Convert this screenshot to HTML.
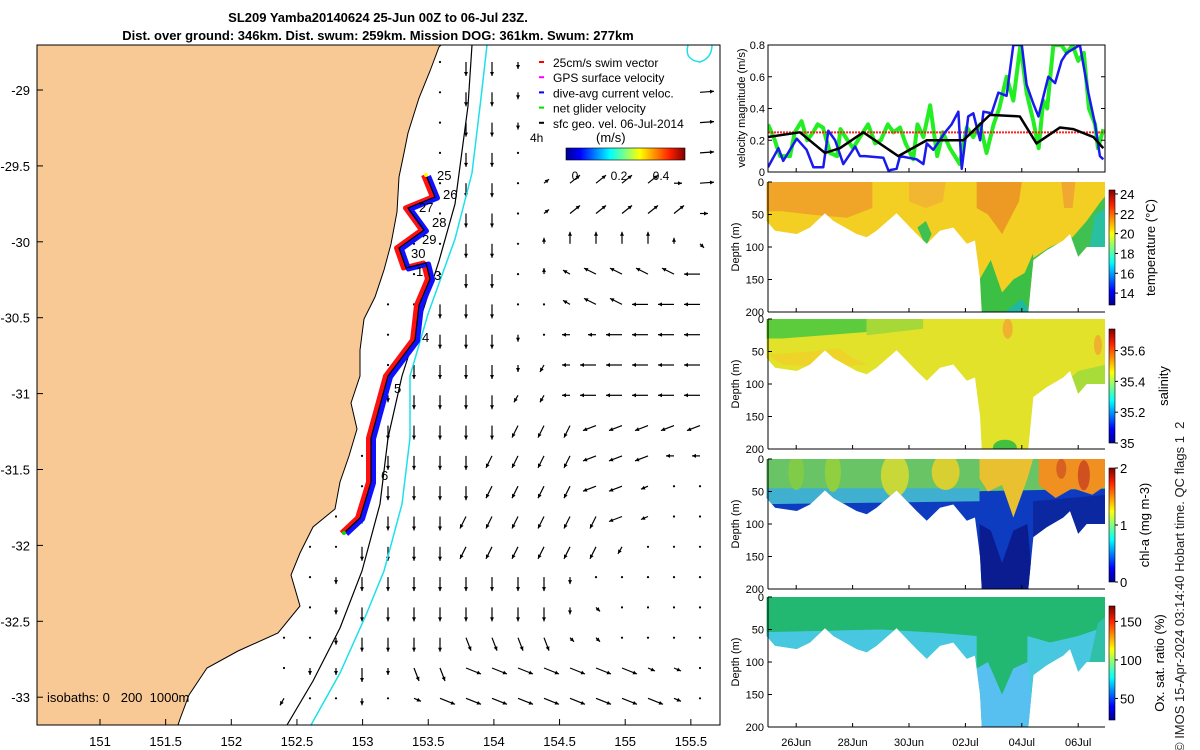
<!DOCTYPE html>
<html><head><meta charset="utf-8">
<style>
html,body{margin:0;padding:0;background:#fff;}
svg{display:block;font-family:"Liberation Sans",sans-serif;}
</style></head>
<body>
<svg id="root" width="1200" height="750" viewBox="0 0 1200 750">
<defs>
<linearGradient id="jet" x1="0" x2="1" y1="0" y2="0">
<stop offset="0" stop-color="#00008f"/><stop offset="0.12" stop-color="#0000ff"/><stop offset="0.37" stop-color="#00ffff"/><stop offset="0.5" stop-color="#80ff80"/><stop offset="0.62" stop-color="#ffff00"/><stop offset="0.87" stop-color="#ff2000"/><stop offset="1" stop-color="#800000"/>
</linearGradient>
<linearGradient id="jetv" x1="0" x2="0" y1="1" y2="0">
<stop offset="0" stop-color="#00008f"/><stop offset="0.12" stop-color="#0000ff"/><stop offset="0.37" stop-color="#00ffff"/><stop offset="0.5" stop-color="#80ff80"/><stop offset="0.62" stop-color="#ffff00"/><stop offset="0.87" stop-color="#ff2000"/><stop offset="1" stop-color="#800000"/>
</linearGradient>
<clipPath id="mapclip"><rect x="37" y="45" width="683" height="680"/></clipPath>
<clipPath id="velclip"><rect x="768" y="45" width="337" height="127"/></clipPath>
</defs>
<g id="title" font-weight="bold" font-size="13" text-anchor="middle">
<text x="378" y="22">SL209 Yamba20140624 25-Jun 00Z to 06-Jul 23Z.</text>
<text x="378" y="40">Dist. over ground: 346km. Dist. swum: 259km. Mission DOG: 361km. Swum: 277km</text>
</g>
<g id="map" clip-path="url(#mapclip)"></g>
<rect x="37" y="45" width="683" height="680" fill="none" stroke="#000" stroke-width="1"/>
<g id="mapaxes"></g>
<g id="vel"></g>
<g id="sections"></g>
<text transform="translate(1184,752) rotate(-90)" font-size="13" fill="#222" style="white-space:pre">© IMOS 15-Apr-2024 03:14:40 Hobart time. QC flags 1  2</text>
</svg>
<script>
// ---------- velocity data (day since 25-Jun 00Z, m/s) ----------
const blueT=[0,0.37,0.54,1.02,1.37,1.61,1.96,2.14,2.38,2.67,3.09,3.26,3.44,4.09,4.27,4.56,4.68,5.27,5.51,5.63,5.86,6.28,6.51,6.75,6.87,7.1,7.28,7.52,7.64,7.93,8.17,8.46,8.7,9.0,9.17,9.41,9.59,9.94,10.18,10.41,10.59,11.06,11.36,11.6,11.77,11.89];
const blueV=[0.03,0.15,0.07,0.21,0.14,0.03,0.03,0.26,0.2,0.05,0.16,0.1,0.1,0.09,0.01,0.02,0.1,0.08,0.05,0.18,0.14,0.25,0.3,0.38,0.02,0.35,0.37,0.2,0.38,0.37,0.5,0.48,0.8,0.8,0.55,0.43,0.35,0.6,0.56,0.7,0.75,0.8,0.5,0.3,0.1,0.08];
const blackT=[0,1.13,2.02,2.55,3.38,4.62,5.63,6.93,7.87,8.93,9.52,10.35,10.83,11.54,11.89];
const blackV=[0.22,0.25,0.12,0.15,0.25,0.1,0.2,0.2,0.36,0.35,0.18,0.28,0.27,0.22,0.15];
const greenT=[0,0.2,0.43,0.78,0.95,1.19,1.39,1.6,1.76,1.95,2.2,2.45,2.57,2.82,3.02,3.26,3.55,3.8,4.0,4.25,4.45,4.68,4.88,5.15,5.3,5.51,5.75,6.0,6.2,6.45,6.8,7.05,7.28,7.52,7.75,8.0,8.2,8.46,8.7,8.95,9.17,9.41,9.6,9.76,9.9,10.12,10.4,10.6,10.8,11.0,11.2,11.38,11.6,11.7,11.89];
const greenV=[0.3,0.22,0.1,0.1,0.25,0.32,0.2,0.25,0.3,0.28,0.12,0.1,0.27,0.2,0.15,0.22,0.3,0.18,0.2,0.3,0.25,0.28,0.18,0.08,0.3,0.22,0.42,0.1,0.25,0.15,0.05,0.28,0.22,0.3,0.12,0.3,0.4,0.6,0.45,0.8,0.5,0.32,0.15,0.45,0.4,0.8,0.8,0.75,0.8,0.7,0.75,0.4,0.3,0.15,0.27];
const velTicks=[0,0.2,0.4,0.6,0.8];
const refSpeed=0.25;
// ---------- section boundary (deepest sample) ----------
const bndT=[-0.05,0.25,1.02,1.49,2.02,2.32,3.14,3.5,3.85,4.56,5.27,5.63,6.1,6.57,7.05,7.34,7.52,7.58,9.23,9.41,9.88,10.47,10.71,11.0,11.3,11.95];
const bndD=[60,75,80,70,48,60,80,85,75,48,80,95,75,70,95,90,150,200,200,120,105,90,80,115,100,100];
const dateLabels=["26Jun","28Jun","30Jun","02Jul","04Jul","06Jul"];
const dateDays=[1,3,5,7,9,11];
const depthTicks=[0,50,100,150,200];
const tempTicks=[14,16,18,20,22,24], tempRange=[12.8,24.4];
const salTicks=[35,35.2,35.4,35.6], salRange=[35,35.74];
const chlTicks=[0,1,2], chlRange=[0,2];
const oxTicks=[50,100,150], oxRange=[22,170];
// ---------- map quiver (rows of direction codes, cols lon index) ----------
const quiverRows=[
"      .DDd       ",
"      .DDd      R",
"      .DDd      R",
"      .DD.     rR",
"      .DD.eEEEErR",
"     ..DD.eEEEEEr",
"     ..DD.uUUUUus",
"     ..DD.uqQQQQL",
"    ..DDD..qQQLLL",
"    ..DDDd.llLLLL",
"    .DDDDdwlLLLLL",
"    dDDDDwwlLLLLL",
"    DDDDDWWWKKKKK",
"   .DDDDWWWWKKKll",
"   .DDDDWWWWKKk..",
"  .dDDDWWWWWWKk..",
" ..DDDDWWWWWWw...",
" .dDDDDDDDDd.....",
" .dDDDDDDDDds....",
"..dDDDDSSSSss....",
".ddDdSSTTTTTTTtt.",
"w..d.tTTTTTTTTTt."];
const codeVec={D:[0,14],d:[0,7],L:[-16,0],l:[-8,0],Q:[-12,-6],q:[-7,-4],U:[0,-12],u:[0,-6],E:[10,-8],e:[5,-4],R:[14,-1],r:[8,0],W:[-6,12],w:[-4,7],K:[-13,5],k:[-7,3],S:[5,13],s:[4,4],T:[15,6],t:[7,3]};
const lonTicks=[151,151.5,152,152.5,153,153.5,154,154.5,155,155.5];
const latTicks=[-29,-29.5,-30,-30.5,-31,-31.5,-32,-32.5,-33];
const dayLabels=["25","26","27","28","29","30","1","3","4","5","6"];
const dayLabelPos=[[437,180],[443,199],[419,212],[432,227],[422,244],[411,258],[416,276],[434,280],[422,342],[394,393],[381,480]];

const NS="http://www.w3.org/2000/svg";
function mk(tag,attrs,parent){const e=document.createElementNS(NS,tag);for(const k in attrs)e.setAttribute(k,attrs[k]);parent.appendChild(e);return e;}
function txt(s,attrs,parent){const e=mk('text',attrs,parent);e.textContent=s;return e;}
const lonX=lon=>100+(lon-151)*131.3;
const latY=lat=>90+(-29-lat)*151.8;

// ================= MAP =================
const map=document.getElementById('map');
const qg=mk('g',{},map);


quiverRows.forEach((row,j)=>{
  const y=62+30.3*j;
  for(let i=0;i<row.length;i++){
    const c=row[i]; const x=466+26*(i-7);
    if(c===' ')continue;
    if(c==='.'){const d=mk('circle',{cx:x,cy:y,r:1.1,fill:'#000'},qg);
      
      continue;}
    const v=codeVec[c]; const x2=x+v[0], y2=y+v[1];
    const a=mk('g',{},qg);
    
    
    mk('line',{x1:x,y1:y,x2:x2,y2:y2,stroke:'#000','stroke-width':1.2},a);
    const L=Math.hypot(v[0],v[1]),ux=v[0]/L,uy=v[1]/L,h=4;
    mk('polygon',{points:`${x2},${y2} ${x2-ux*h-uy*2},${y2-uy*h+ux*2} ${x2-ux*h+uy*2},${y2-uy*h-ux*2}`,fill:'#000'},a);
  }
});
const land=mk('path',{d:"M37,45 L441,45 L439,47 L430,71 L419,98 L408,133 L404,153 L399,177 L397,212 L391,244 L384,270 L375,297 L364,319 L360,350 L360,376 L351,403 L357,429 L349,456 L340,482 L335,509 L313,527 L300,553 L291,575 L300,606 L278,633 L238,651 L207,668 L189,695 L180,719 L178,725 L37,725 Z",fill:'#f9c995',stroke:'#000','stroke-width':1},map);


const iso200=mk('polyline',{points:"472,45 468,106 455,204 439,261 419,323 402,376 388,438 380,504 362,571 340,628 313,681 287,725",fill:'none',stroke:'#000','stroke-width':1.2},map);


const iso1000=mk('polyline',{points:"487,45 481,98 472,173 455,239 428,314 410,376 410,438 402,504 384,571 366,615 340,673 311,725",fill:'none',stroke:'#1ee0e8','stroke-width':1.5},map);


mk('path',{d:"M688,45 Q684,60 700,62 Q712,58 712,45",fill:'none',stroke:'#1ee0e8','stroke-width':1.5},map);
const trk="426,175 435,197 408,208 424,230 399,248 406,268 426,263 430,279 419,305 415,340 388,376 371,438 371,482 360,518 344,533";
const tr=mk('polyline',{points:trk,fill:'none',stroke:'#ff1010','stroke-width':5,transform:'translate(-2.5,0)','stroke-linejoin':'round'},map);


const tb=mk('polyline',{points:trk,fill:'none',stroke:'#1010ff','stroke-width':5,transform:'translate(2.5,1)','stroke-linejoin':'round'},map);


const tk=mk('polyline',{points:trk,fill:'none',stroke:'#000','stroke-width':1.2},map);


mk('circle',{cx:426,cy:175,r:2,fill:'#ffff00'},map);
mk('circle',{cx:344,cy:533,r:2,fill:'#00e000'},map);
dayLabels.forEach((s,i)=>{const t=txt(s,{x:dayLabelPos[i][0],y:dayLabelPos[i][1],'font-size':13},map);
  
  });
const lg=mk('g',{'font-size':12},map);


const legItems=[["25cm/s swim vector","#ff0000"],["GPS surface velocity","#ff00ff"],["dive-avg current veloc.","#0000ff"],["net glider velocity","#00e000"],["sfc geo. vel. 06-Jul-2014","#000"]];
legItems.forEach((it,i)=>{const y=63+15.2*i;
  const g=mk('g',{},lg);
  
  
  mk('rect',{x:539,y:y-2,width:5,height:2,fill:it[1]},g);
  txt(it[0],{x:553,y:y+4},g);});
txt("4h",{x:530,y:142,'font-size':12},lg);
txt("(m/s)",{x:596,y:142,'font-size':13},lg);
const cb=mk('rect',{x:566,y:148,width:119,height:12,fill:'url(#jet)',stroke:'#000','stroke-width':0.6},lg);


[["0",575],["0.2",619],["0.4",661]].forEach(a=>txt(a[0],{x:a[1],y:180,'font-size':12,'text-anchor':'middle'},lg));
const isot=txt("isobaths: 0   200  1000m",{x:47,y:702,'font-size':13,style:'white-space:pre'},map);


const ma=document.getElementById('mapaxes');
lonTicks.forEach(l=>{const x=lonX(l);
  mk('line',{x1:x,y1:725,x2:x,y2:719,stroke:'#000'},ma);
  const t=txt(String(l),{x:x,y:746,'font-size':13,'text-anchor':'middle'},ma);
  
  });
latTicks.forEach(l=>{const y=latY(l);
  mk('line',{x1:37,y1:y,x2:43,y2:y,stroke:'#000'},ma);
  const t=txt(String(l),{x:30,y:y+5,'font-size':13,'text-anchor':'end'},ma);
  
  });

// ================= VELOCITY PANEL =================
const X0=768,X1=1105,PD=28.2;
const tx=d=>X0+d*PD;
const vel=document.getElementById('vel');
const vy=v=>172-v/0.8*127;
const vg=mk('g',{'clip-path':'url(#velclip)'},vel);
function series(T,V,color,w,name){const p=mk('polyline',{points:T.map((t,i)=>tx(t)+','+vy(V[i])).join(' '),fill:'none',stroke:color,'stroke-width':w,'stroke-linejoin':'round'},vg);
  
  }
series(greenT,greenV,'#22ee22',4,'net-glider-velocity-line');
const rl=mk('line',{x1:X0,x2:X1,y1:vy(refSpeed),y2:vy(refSpeed),stroke:'#ff2020','stroke-width':2,'stroke-dasharray':'2,1'},vg);


series(blueT,blueV,'#1a1aee',2.5,'dive-avg-current-line');
series(blackT,blackV,'#000',2.5,'smoothed-current-line');
mk('rect',{x:X0,y:45,width:X1-X0,height:127,fill:'none',stroke:'#000'},vel);
velTicks.forEach(v=>{const y=vy(v);
  mk('line',{x1:X0,x2:X0+4,y1:y,y2:y,stroke:'#000'},vel);
  mk('line',{x1:X1,x2:X1-4,y1:y,y2:y,stroke:'#000'},vel);
  const t=txt(String(v),{x:X0-3,y:y+4,'font-size':11,'text-anchor':'end'},vel);
  
  });
dateDays.forEach(d=>{mk('line',{x1:tx(d),x2:tx(d),y1:172,y2:168,stroke:'#000'},vel);});
const vyl=txt("velocity magnitude (m/s)",{transform:'translate(745,108) rotate(-90)','font-size':11,'text-anchor':'middle'},vel);



// ================= SECTIONS =================
const sec=document.getElementById('sections');
const panels=[
 {name:'temperature',top:182,ticks:tempTicks,range:tempRange,label:'temperature (°C)',lx:1155,cbTop:190,cbBot:305},
 {name:'salinity',top:319,ticks:salTicks,range:salRange,label:'salinity',lx:1168,cbTop:329,cbBot:443},
 {name:'chl-a',top:459,ticks:chlTicks,range:chlRange,label:'chl-a (mg m-3)',lx:1149,cbTop:468,cbBot:582},
 {name:'oxygen',top:597,ticks:oxTicks,range:oxRange,label:'Ox. sat. ratio (%)',lx:1164,cbTop:606,cbBot:720}];
const PH=130;
panels.forEach((p,pi)=>{
  const dy=d=>p.top+d/200*PH;
  const g=mk('g',{},sec);
  
  
  const cp=mk('clipPath',{id:'cp'+pi},g);
  let pts=`${tx(bndT[0])},${p.top} `+bndT.map((t,i)=>tx(t)+','+Math.min(dy(bndD[i]),p.top+PH)).join(' ')+` ${tx(bndT[bndT.length-1])},${p.top}`;
  mk('polygon',{points:pts},cp);
  const h=mk('g',{'clip-path':`url(#cp${pi})`},g);
  const R=(d0,d1,t0,t1,fill,op)=>mk('rect',{x:tx(t0),y:dy(d0),width:tx(t1)-tx(t0),height:dy(d1)-dy(d0),fill:fill,opacity:op||1},h);
  const E=(t,d,rx,ry,fill,op)=>mk('ellipse',{cx:tx(t),cy:dy(d),rx:rx,ry:ry,fill:fill,opacity:op||1},h);
  const P=(arr,fill,op)=>mk('polygon',{points:arr.map(a=>tx(a[0])+','+dy(a[1])).join(' '),fill:fill,opacity:op||1},h);
  if(pi===0){
    R(0,200,-1,13,'#f2cf22');
    P([[-1,0],[3.7,0],[3.7,40],[2.8,55],[1.5,50],[0.5,45],[-1,45]],'#f0a428');
    P([[5,0],[6.3,0],[6.2,30],[5.6,40],[5,30]],'#f3b630');
    P([[7.4,0],[9,0],[8.9,30],[8.3,80],[7.8,50],[7.4,40]],'#ec9a24');
    P([[10.4,0],[10.9,0],[10.8,40],[10.5,40]],'#f0a830');
    P([[7.5,150],[7.9,120],[8.3,170],[8.7,150],[9.1,140],[9.4,110],[9.4,200],[7.5,200]],'#3cbf45');
    P([[8.4,200],[9.0,180],[9.3,200]],'#20b8a0');
    P([[9.3,120],[10,100],[10.8,85],[11.3,60],[11.8,30],[12,20],[12,110],[9.3,130]],'#40c050');
    P([[11.4,100],[11.6,50],[12,40],[12,110]],'#28c0a0');
    P([[5.3,70],[5.6,60],[5.8,80],[5.6,100]],'#40c050');
  } else if(pi===1){
    R(0,200,-1,13,'#e2e22a');
    P([[-1,0],[3.5,0],[3.5,20],[2,25],[0.5,30],[-1,30]],'#5ccc3c');
    P([[3.5,0],[5.5,0],[5.5,15],[3.5,25]],'#a6d838');
    P([[0,55],[1.5,50],[2.5,45],[3,60],[3.5,70],[2,75],[0.5,70]],'#f0d228',0.9);
    E(8.5,15,5,10,'#f0b030');E(11.7,40,4,10,'#f0b030');
    P([[10.5,100],[11,80],[12,70],[12,110],[11,120]],'#a8dc38');
    E(8.4,198,12,8,'#44c040');
  } else if(pi===2){
    R(0,200,-1,13,'#0e3cc0');
    P([[-1,0],[12.5,0],[12.5,45],[7,50],[3,55],[-1,55]],'#68c464');
    P([[-1,45],[7.5,45],[7.5,65],[-1,70]],'#40b0d0');
    E(4.5,25,14,22,'#c8d838');E(6.3,20,14,18,'#d8d030');E(2.3,20,8,20,'#90d040');E(1,20,8,18,'#80cc48');
    P([[7.5,0],[9.4,0],[9.2,30],[8.7,90],[8.3,40],[7.8,50],[7.5,30]],'#e8c030');
    P([[9.6,0],[12,0],[12,40],[11.5,55],[10.8,45],[10.2,60],[9.6,40]],'#f09020');
    E(11.2,25,6,15,'#d05020');E(10.4,15,5,10,'#d86020');
    P([[7.5,100],[7.9,110],[8.3,160],[8.7,110],[9.2,100],[9.4,200],[7.5,200]],'#0a1c90');
    P([[9.4,65],[12,55],[12,120],[9.4,120]],'#0c28a0');
  } else {
    R(0,200,-1,13,'#22b872');
    P([[-1,55],[4,50],[6,55],[7.4,60],[7.4,200],[-1,200]],'#48c8e0');
    P([[9.2,60],[10,70],[11,60],[12,45],[12,200],[9.2,200]],'#48c8e0');
    P([[7.4,110],[7.8,100],[8.3,150],[8.7,110],[9.2,100],[9.4,200],[7.4,200]],'#58c0f0');
    P([[11.4,100],[11.7,40],[12,30],[12,110]],'#30c0a8');
  }
  mk('line',{x1:X0,x2:X0,y1:p.top,y2:p.top+PH,stroke:'#000'},g);
  mk('line',{x1:X0,x2:X1,y1:p.top+PH,y2:p.top+PH,stroke:'#000'},g);
  depthTicks.forEach(d=>{const y=dy(d);
    mk('line',{x1:X0,x2:X0+4,y1:y,y2:y,stroke:'#000'},g);
    const t=txt(String(d),{x:X0-4,y:y+4,'font-size':11,'text-anchor':'end'},g);
    
    });
  dateDays.forEach(d=>mk('line',{x1:tx(d),x2:tx(d),y1:p.top+PH,y2:p.top+PH-4,stroke:'#000'},g));
  const yl=txt("Depth (m)",{transform:`translate(739,${p.top+PH/2}) rotate(-90)`,'font-size':11,'text-anchor':'middle'},g);
  
  
  const c=mk('rect',{x:1109,y:p.cbTop,width:6,height:p.cbBot-p.cbTop,fill:'url(#jetv)',stroke:'#000','stroke-width':0.6},g);
  
  
  p.ticks.forEach(v=>{const y=p.cbBot-(v-p.range[0])/(p.range[1]-p.range[0])*(p.cbBot-p.cbTop);
    mk('line',{x1:1115,x2:1118,y1:y,y2:y,stroke:'#000'},g);
    const t=txt(String(v),{x:1120,y:y+5,'font-size':13},g);
    
    });
  const cl=txt(p.label,{transform:`translate(${p.lx},${(p.cbTop+p.cbBot)/2}) rotate(-90)`,'font-size':13,'text-anchor':'middle'},g);
  
  
});
dateLabels.forEach((s,i)=>{const t=txt(s,{x:tx(dateDays[i]),y:746,'font-size':11,'text-anchor':'middle'},sec);
  
  });
</script>
</body></html>
